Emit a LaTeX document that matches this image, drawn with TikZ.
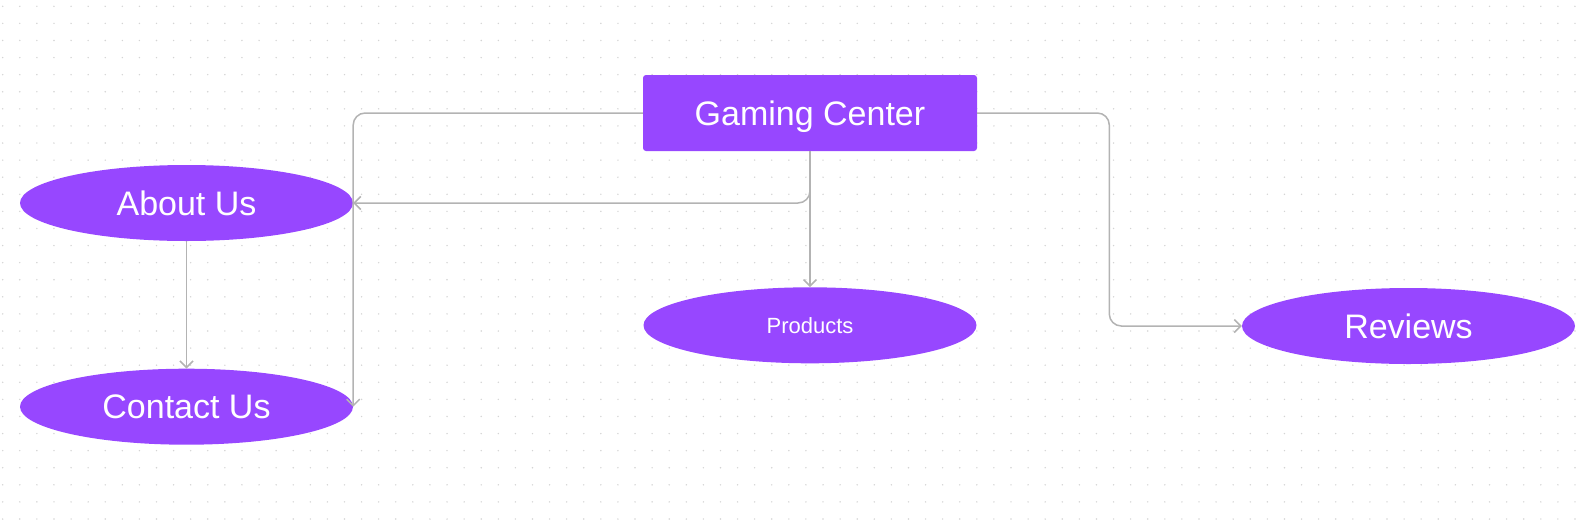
\documentclass[tikz,border=0pt]{standalone}
\usepackage{fontspec}
\setmainfont{Liberation Sans}
\usepackage{xcolor}
\usepackage{tikz}
\usetikzlibrary{arrows.meta,shapes.geometric}
\definecolor{figpurple}{RGB}{151,71,255}
\definecolor{linkgray}{RGB}{179,179,179}
\definecolor{dotgray}{RGB}{212,212,212}
\tikzset{
  % 基础形状
  pagebox/.style={
    fill=figpurple,
    rounded corners=3pt,
    minimum width=334pt,
    minimum height=76pt,
    inner sep=0pt,
    text depth=0pt,
    text=white,
    font=\fontsize{34}{40}\selectfont
  },
  % 椭圆页面
  pageoval/.style={
    pagebox,
    ellipse,
    rounded corners=0pt,
    minimum width=333pt
  },
  % 连线样式
  arr/.style={-{Straight Barb[length=6.5pt,width=13pt]}, line width=1.5pt, linkgray, rounded corners=12pt},
}
\begin{document}
\begin{tikzpicture}[x=1pt, y=-1pt]
    \useasboundingbox (0,0) rectangle (1583,520);

    % Dot grid
    \foreach \i in {0,...,92}
        \foreach \j in {0,...,30}
            \fill[dotgray] (2.7+\i*17.09, 6.3+\j*17.09) circle (0.8pt);

    % Pages
    \node[pagebox] (gc) at (810,113) {Gaming Center};
    \node[pageoval] (about) at (186.5,203) {About Us};
    \node[pageoval] (contact) at (186.5,406.7) {Contact Us};
    \node[pageoval, font=\fontsize{22}{26}\selectfont] (products) at (810,325.3) {Products};
    \node[pageoval] (reviews) at (1408.5,326) {Reviews};
    \coordinate (rbend) at (1109.3,113);

    % Links
    \draw[arr] (gc.west) -| (contact.east);
    \draw[arr] (gc.south) |- (about.east);
    \draw[arr] (gc.south) -- (products.north);
    \draw[arr] (gc.east) -- (rbend) |- (reviews.west);
    \draw[arr] (about.south) -- (contact.north);
\end{tikzpicture}
\end{document}
